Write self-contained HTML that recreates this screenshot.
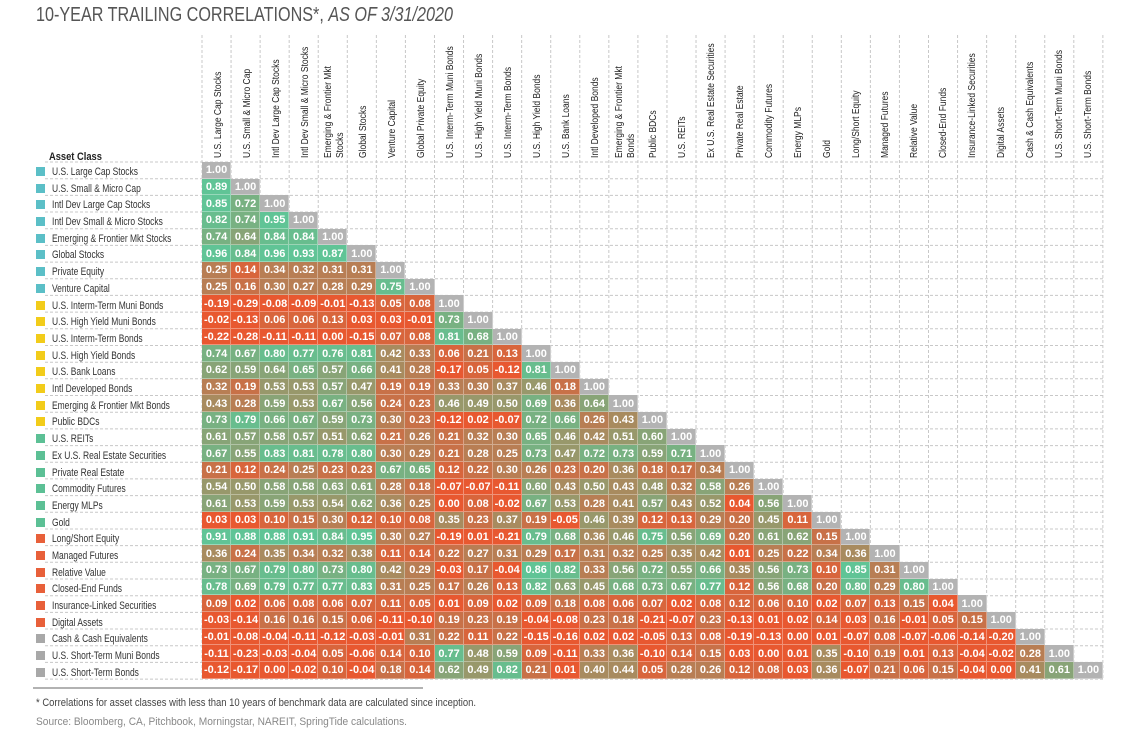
<!DOCTYPE html>
<html><head><meta charset="utf-8">
<style>
html,body{margin:0;padding:0;background:#fff;}
body{width:1139px;height:731px;position:relative;overflow:hidden;font-family:"Liberation Sans",Arial,sans-serif;}
svg{position:absolute;left:0;top:0;}
table{position:absolute;left:202px;top:162px;width:901px;table-layout:fixed;border-collapse:collapse;border-spacing:0;}
td{padding:0;height:16.68px;line-height:16px;text-align:center;color:#fff;font-weight:bold;font-size:11px;box-shadow:inset -1px -1px 0 rgba(255,255,255,.35);white-space:nowrap;overflow:hidden;}
tr{height:16.68px;}
.d{background:#b3b3b3}
.n{background:#e85830}
.a1{background:#d8653c}
.a2{background:#c87148}
.a3{background:#b87e54}
.a4{background:#a88b5f}
.a5{background:#98986b}
.a6{background:#88a477}
.a7{background:#78b182}
.a8{background:#68bd8e}
.a9{background:#60c496}
</style></head><body>
<svg width="1139" height="731" viewBox="0 0 1139 731">
<text x="36" y="21" font-size="20" fill="#555" textLength="417" lengthAdjust="spacingAndGlyphs">10-YEAR TRAILING CORRELATIONS*, <tspan font-style="italic">AS OF 3/31/2020</tspan></text>
<g stroke="#c8c8c8" stroke-width="1" stroke-dasharray="3,2">
<line x1="202" y1="35" x2="202" y2="680"/><line x1="231.06" y1="35" x2="231.06" y2="680"/><line x1="260.12" y1="35" x2="260.12" y2="680"/><line x1="289.18" y1="35" x2="289.18" y2="680"/><line x1="318.24" y1="35" x2="318.24" y2="680"/><line x1="347.3" y1="35" x2="347.3" y2="680"/><line x1="376.36" y1="35" x2="376.36" y2="680"/><line x1="405.42" y1="35" x2="405.42" y2="680"/><line x1="434.48" y1="35" x2="434.48" y2="680"/><line x1="463.54" y1="35" x2="463.54" y2="680"/><line x1="492.6" y1="35" x2="492.6" y2="680"/><line x1="521.66" y1="35" x2="521.66" y2="680"/><line x1="550.72" y1="35" x2="550.72" y2="680"/><line x1="579.78" y1="35" x2="579.78" y2="680"/><line x1="608.84" y1="35" x2="608.84" y2="680"/><line x1="637.9" y1="35" x2="637.9" y2="680"/><line x1="666.96" y1="35" x2="666.96" y2="680"/><line x1="696.02" y1="35" x2="696.02" y2="680"/><line x1="725.08" y1="35" x2="725.08" y2="680"/><line x1="754.14" y1="35" x2="754.14" y2="680"/><line x1="783.2" y1="35" x2="783.2" y2="680"/><line x1="812.26" y1="35" x2="812.26" y2="680"/><line x1="841.32" y1="35" x2="841.32" y2="680"/><line x1="870.38" y1="35" x2="870.38" y2="680"/><line x1="899.44" y1="35" x2="899.44" y2="680"/><line x1="928.5" y1="35" x2="928.5" y2="680"/><line x1="957.56" y1="35" x2="957.56" y2="680"/><line x1="986.62" y1="35" x2="986.62" y2="680"/><line x1="1015.68" y1="35" x2="1015.68" y2="680"/><line x1="1044.74" y1="35" x2="1044.74" y2="680"/><line x1="1073.8" y1="35" x2="1073.8" y2="680"/><line x1="1102.86" y1="35" x2="1102.86" y2="680"/>
<line x1="45" y1="162" x2="1103" y2="162"/><line x1="45" y1="178.7" x2="1103" y2="178.7"/><line x1="45" y1="195.4" x2="1103" y2="195.4"/><line x1="45" y1="212" x2="1103" y2="212"/><line x1="45" y1="228.7" x2="1103" y2="228.7"/><line x1="45" y1="245.4" x2="1103" y2="245.4"/><line x1="45" y1="262.1" x2="1103" y2="262.1"/><line x1="45" y1="278.8" x2="1103" y2="278.8"/><line x1="45" y1="295.4" x2="1103" y2="295.4"/><line x1="45" y1="312.1" x2="1103" y2="312.1"/><line x1="45" y1="328.8" x2="1103" y2="328.8"/><line x1="45" y1="345.5" x2="1103" y2="345.5"/><line x1="45" y1="362.2" x2="1103" y2="362.2"/><line x1="45" y1="378.8" x2="1103" y2="378.8"/><line x1="45" y1="395.5" x2="1103" y2="395.5"/><line x1="45" y1="412.2" x2="1103" y2="412.2"/><line x1="45" y1="428.9" x2="1103" y2="428.9"/><line x1="45" y1="445.6" x2="1103" y2="445.6"/><line x1="45" y1="462.2" x2="1103" y2="462.2"/><line x1="45" y1="478.9" x2="1103" y2="478.9"/><line x1="45" y1="495.6" x2="1103" y2="495.6"/><line x1="45" y1="512.3" x2="1103" y2="512.3"/><line x1="45" y1="529" x2="1103" y2="529"/><line x1="45" y1="545.6" x2="1103" y2="545.6"/><line x1="45" y1="562.3" x2="1103" y2="562.3"/><line x1="45" y1="579" x2="1103" y2="579"/><line x1="45" y1="595.7" x2="1103" y2="595.7"/><line x1="45" y1="612.4" x2="1103" y2="612.4"/><line x1="45" y1="629" x2="1103" y2="629"/><line x1="45" y1="645.7" x2="1103" y2="645.7"/><line x1="45" y1="662.4" x2="1103" y2="662.4"/><line x1="45" y1="679.1" x2="1103" y2="679.1"/>
</g>
<g font-size="10" fill="#222">
<text transform="translate(221,158) rotate(-90) scale(0.85,1)">U.S. Large Cap Stocks</text>
<text transform="translate(250,158) rotate(-90) scale(0.85,1)">U.S. Small &amp; Micro Cap</text>
<text transform="translate(279,158) rotate(-90) scale(0.85,1)">Intl Dev Large Cap Stocks</text>
<text transform="translate(308,158) rotate(-90) scale(0.85,1)">Intl Dev Small &amp; Micro Stocks</text>
<text transform="translate(331,158) rotate(-90) scale(0.85,1)">Emerging &amp; Frontier Mkt</text>
<text transform="translate(343,158) rotate(-90) scale(0.85,1)">Stocks</text>
<text transform="translate(366,158) rotate(-90) scale(0.85,1)">Global Stocks</text>
<text transform="translate(395,158) rotate(-90) scale(0.85,1)">Venture Capital</text>
<text transform="translate(424,158) rotate(-90) scale(0.85,1)">Global Private Equity</text>
<text transform="translate(453,158) rotate(-90) scale(0.85,1)">U.S. Interm-Term Muni Bonds</text>
<text transform="translate(482,158) rotate(-90) scale(0.85,1)">U.S. High Yield Muni Bonds</text>
<text transform="translate(511,158) rotate(-90) scale(0.85,1)">U.S. Interm-Term Bonds</text>
<text transform="translate(540,158) rotate(-90) scale(0.85,1)">U.S. High Yield Bonds</text>
<text transform="translate(569,158) rotate(-90) scale(0.85,1)">U.S. Bank Loans</text>
<text transform="translate(598,158) rotate(-90) scale(0.85,1)">Intl Developed Bonds</text>
<text transform="translate(622,158) rotate(-90) scale(0.85,1)">Emerging &amp; Frontier Mkt</text>
<text transform="translate(634,158) rotate(-90) scale(0.85,1)">Bonds</text>
<text transform="translate(656,158) rotate(-90) scale(0.85,1)">Public BDCs</text>
<text transform="translate(685,158) rotate(-90) scale(0.85,1)">U.S. REITs</text>
<text transform="translate(714,158) rotate(-90) scale(0.85,1)">Ex U.S. Real Estate Securities</text>
<text transform="translate(743,158) rotate(-90) scale(0.85,1)">Private Real Estate</text>
<text transform="translate(772,158) rotate(-90) scale(0.85,1)">Commodity Futures</text>
<text transform="translate(801,158) rotate(-90) scale(0.85,1)">Energy MLPs</text>
<text transform="translate(830,158) rotate(-90) scale(0.85,1)">Gold</text>
<text transform="translate(859,158) rotate(-90) scale(0.85,1)">Long/Short Equity</text>
<text transform="translate(888,158) rotate(-90) scale(0.85,1)">Managed Futures</text>
<text transform="translate(917,158) rotate(-90) scale(0.85,1)">Relative Value</text>
<text transform="translate(946,158) rotate(-90) scale(0.85,1)">Closed-End Funds</text>
<text transform="translate(975,158) rotate(-90) scale(0.85,1)">Insurance-Linked Securities</text>
<text transform="translate(1004,158) rotate(-90) scale(0.85,1)">Digital Assets</text>
<text transform="translate(1033,158) rotate(-90) scale(0.85,1)">Cash &amp; Cash Equivalents</text>
<text transform="translate(1062,158) rotate(-90) scale(0.85,1)">U.S. Short-Term Muni Bonds</text>
<text transform="translate(1091,158) rotate(-90) scale(0.85,1)">U.S. Short-Term Bonds</text>
</g>
<text transform="translate(49,160) scale(0.85,1)" font-size="11" font-weight="bold" fill="#222">Asset Class</text>
<g>
<rect x="36" y="167" width="9" height="9" fill="#5bbfc7"/><rect x="36" y="184" width="9" height="9" fill="#5bbfc7"/><rect x="36" y="200" width="9" height="9" fill="#5bbfc7"/><rect x="36" y="217" width="9" height="9" fill="#5bbfc7"/><rect x="36" y="234" width="9" height="9" fill="#5bbfc7"/><rect x="36" y="250" width="9" height="9" fill="#5bbfc7"/><rect x="36" y="267" width="9" height="9" fill="#5bbfc7"/><rect x="36" y="284" width="9" height="9" fill="#5bbfc7"/>
<rect x="36" y="301" width="9" height="9" fill="#f2cc1a"/><rect x="36" y="317" width="9" height="9" fill="#f2cc1a"/><rect x="36" y="334" width="9" height="9" fill="#f2cc1a"/><rect x="36" y="351" width="9" height="9" fill="#f2cc1a"/><rect x="36" y="367" width="9" height="9" fill="#f2cc1a"/><rect x="36" y="384" width="9" height="9" fill="#f2cc1a"/><rect x="36" y="401" width="9" height="9" fill="#f2cc1a"/><rect x="36" y="417" width="9" height="9" fill="#f2cc1a"/>
<rect x="36" y="434" width="9" height="9" fill="#5cc095"/><rect x="36" y="451" width="9" height="9" fill="#5cc095"/><rect x="36" y="468" width="9" height="9" fill="#5cc095"/><rect x="36" y="484" width="9" height="9" fill="#5cc095"/><rect x="36" y="501" width="9" height="9" fill="#5cc095"/><rect x="36" y="518" width="9" height="9" fill="#5cc095"/>
<rect x="36" y="534" width="9" height="9" fill="#e8603a"/><rect x="36" y="551" width="9" height="9" fill="#e8603a"/><rect x="36" y="568" width="9" height="9" fill="#e8603a"/><rect x="36" y="584" width="9" height="9" fill="#e8603a"/><rect x="36" y="601" width="9" height="9" fill="#e8603a"/><rect x="36" y="618" width="9" height="9" fill="#e8603a"/>
<rect x="36" y="634" width="9" height="9" fill="#a8a8a8"/><rect x="36" y="651" width="9" height="9" fill="#a8a8a8"/><rect x="36" y="668" width="9" height="9" fill="#a8a8a8"/>
</g>
<g font-size="11" fill="#333">
<text transform="translate(52,175) scale(0.77,1)">U.S. Large Cap Stocks</text>
<text transform="translate(52,192) scale(0.77,1)">U.S. Small &amp; Micro Cap</text>
<text transform="translate(52,208) scale(0.77,1)">Intl Dev Large Cap Stocks</text>
<text transform="translate(52,225) scale(0.77,1)">Intl Dev Small &amp; Micro Stocks</text>
<text transform="translate(52,242) scale(0.77,1)">Emerging &amp; Frontier Mkt Stocks</text>
<text transform="translate(52,258) scale(0.77,1)">Global Stocks</text>
<text transform="translate(52,275) scale(0.77,1)">Private Equity</text>
<text transform="translate(52,292) scale(0.77,1)">Venture Capital</text>
<text transform="translate(52,309) scale(0.77,1)">U.S. Interm-Term Muni Bonds</text>
<text transform="translate(52,325) scale(0.77,1)">U.S. High Yield Muni Bonds</text>
<text transform="translate(52,342) scale(0.77,1)">U.S. Interm-Term Bonds</text>
<text transform="translate(52,359) scale(0.77,1)">U.S. High Yield Bonds</text>
<text transform="translate(52,375) scale(0.77,1)">U.S. Bank Loans</text>
<text transform="translate(52,392) scale(0.77,1)">Intl Developed Bonds</text>
<text transform="translate(52,409) scale(0.77,1)">Emerging &amp; Frontier Mkt Bonds</text>
<text transform="translate(52,425) scale(0.77,1)">Public BDCs</text>
<text transform="translate(52,442) scale(0.77,1)">U.S. REITs</text>
<text transform="translate(52,459) scale(0.77,1)">Ex U.S. Real Estate Securities</text>
<text transform="translate(52,476) scale(0.77,1)">Private Real Estate</text>
<text transform="translate(52,492) scale(0.77,1)">Commodity Futures</text>
<text transform="translate(52,509) scale(0.77,1)">Energy MLPs</text>
<text transform="translate(52,526) scale(0.77,1)">Gold</text>
<text transform="translate(52,542) scale(0.77,1)">Long/Short Equity</text>
<text transform="translate(52,559) scale(0.77,1)">Managed Futures</text>
<text transform="translate(52,576) scale(0.77,1)">Relative Value</text>
<text transform="translate(52,592) scale(0.77,1)">Closed-End Funds</text>
<text transform="translate(52,609) scale(0.77,1)">Insurance-Linked Securities</text>
<text transform="translate(52,626) scale(0.77,1)">Digital Assets</text>
<text transform="translate(52,642) scale(0.77,1)">Cash &amp; Cash Equivalents</text>
<text transform="translate(52,659) scale(0.77,1)">U.S. Short-Term Muni Bonds</text>
<text transform="translate(52,676) scale(0.77,1)">U.S. Short-Term Bonds</text>
</g>
<line x1="33" y1="688" x2="423" y2="688" stroke="#999" stroke-width="1.5"/>
<text x="36" y="706" font-size="11" fill="#444" textLength="440" lengthAdjust="spacingAndGlyphs">* Correlations for asset classes with less than 10 years of benchmark data are calculated since inception.</text>
<text x="36" y="725" font-size="11" fill="#888" textLength="371" lengthAdjust="spacingAndGlyphs">Source: Bloomberg, CA, Pitchbook, Morningstar, NAREIT, SpringTide calculations.</text>
</svg>
<table>
<colgroup><col span="31" style="width:29.06px"></colgroup>
<tr><td class="d">1.00</td></tr>
<tr><td class="a9">0.89</td><td class="d">1.00</td></tr>
<tr><td class="a9">0.85</td><td class="a7">0.72</td><td class="d">1.00</td></tr>
<tr><td class="a8">0.82</td><td class="a7">0.74</td><td class="a9">0.95</td><td class="d">1.00</td></tr>
<tr><td class="a7">0.74</td><td class="a6">0.64</td><td class="a8">0.84</td><td class="a8">0.84</td><td class="d">1.00</td></tr>
<tr><td class="a9">0.96</td><td class="a8">0.84</td><td class="a9">0.96</td><td class="a9">0.93</td><td class="a9">0.87</td><td class="d">1.00</td></tr>
<tr><td class="a3">0.25</td><td class="a1">0.14</td><td class="a3">0.34</td><td class="a3">0.32</td><td class="a3">0.31</td><td class="a3">0.31</td><td class="d">1.00</td></tr>
<tr><td class="a3">0.25</td><td class="a2">0.16</td><td class="a3">0.30</td><td class="a3">0.27</td><td class="a3">0.28</td><td class="a3">0.29</td><td class="a8">0.75</td><td class="d">1.00</td></tr>
<tr><td class="n">-0.19</td><td class="n">-0.29</td><td class="n">-0.08</td><td class="n">-0.09</td><td class="n">-0.01</td><td class="n">-0.13</td><td class="a1">0.05</td><td class="a1">0.08</td><td class="d">1.00</td></tr>
<tr><td class="n">-0.02</td><td class="n">-0.13</td><td class="a1">0.06</td><td class="a1">0.06</td><td class="a1">0.13</td><td class="n">0.03</td><td class="n">0.03</td><td class="n">-0.01</td><td class="a7">0.73</td><td class="d">1.00</td></tr>
<tr><td class="n">-0.22</td><td class="n">-0.28</td><td class="n">-0.11</td><td class="n">-0.11</td><td class="n">0.00</td><td class="n">-0.15</td><td class="a1">0.07</td><td class="a1">0.08</td><td class="a8">0.81</td><td class="a7">0.68</td><td class="d">1.00</td></tr>
<tr><td class="a7">0.74</td><td class="a7">0.67</td><td class="a8">0.80</td><td class="a8">0.77</td><td class="a8">0.76</td><td class="a8">0.81</td><td class="a4">0.42</td><td class="a3">0.33</td><td class="a1">0.06</td><td class="a2">0.21</td><td class="a1">0.13</td><td class="d">1.00</td></tr>
<tr><td class="a6">0.62</td><td class="a6">0.59</td><td class="a6">0.64</td><td class="a7">0.65</td><td class="a6">0.57</td><td class="a7">0.66</td><td class="a4">0.41</td><td class="a3">0.28</td><td class="n">-0.17</td><td class="a1">0.05</td><td class="n">-0.12</td><td class="a8">0.81</td><td class="d">1.00</td></tr>
<tr><td class="a3">0.32</td><td class="a2">0.19</td><td class="a5">0.53</td><td class="a5">0.53</td><td class="a6">0.57</td><td class="a5">0.47</td><td class="a2">0.19</td><td class="a2">0.19</td><td class="a3">0.33</td><td class="a3">0.30</td><td class="a4">0.37</td><td class="a5">0.46</td><td class="a2">0.18</td><td class="d">1.00</td></tr>
<tr><td class="a4">0.43</td><td class="a3">0.28</td><td class="a6">0.59</td><td class="a5">0.53</td><td class="a7">0.67</td><td class="a6">0.56</td><td class="a2">0.24</td><td class="a2">0.23</td><td class="a5">0.46</td><td class="a5">0.49</td><td class="a5">0.50</td><td class="a7">0.69</td><td class="a4">0.36</td><td class="a6">0.64</td><td class="d">1.00</td></tr>
<tr><td class="a7">0.73</td><td class="a8">0.79</td><td class="a7">0.66</td><td class="a7">0.67</td><td class="a6">0.59</td><td class="a7">0.73</td><td class="a3">0.30</td><td class="a2">0.23</td><td class="n">-0.12</td><td class="n">0.02</td><td class="n">-0.07</td><td class="a7">0.72</td><td class="a7">0.66</td><td class="a3">0.26</td><td class="a4">0.43</td><td class="d">1.00</td></tr>
<tr><td class="a6">0.61</td><td class="a6">0.57</td><td class="a6">0.58</td><td class="a6">0.57</td><td class="a5">0.51</td><td class="a6">0.62</td><td class="a2">0.21</td><td class="a3">0.26</td><td class="a2">0.21</td><td class="a3">0.32</td><td class="a3">0.30</td><td class="a7">0.65</td><td class="a5">0.46</td><td class="a4">0.42</td><td class="a5">0.51</td><td class="a6">0.60</td><td class="d">1.00</td></tr>
<tr><td class="a7">0.67</td><td class="a6">0.55</td><td class="a8">0.83</td><td class="a8">0.81</td><td class="a8">0.78</td><td class="a8">0.80</td><td class="a3">0.30</td><td class="a3">0.29</td><td class="a2">0.21</td><td class="a3">0.28</td><td class="a3">0.25</td><td class="a7">0.73</td><td class="a5">0.47</td><td class="a7">0.72</td><td class="a7">0.73</td><td class="a6">0.59</td><td class="a7">0.71</td><td class="d">1.00</td></tr>
<tr><td class="a2">0.21</td><td class="a1">0.12</td><td class="a2">0.24</td><td class="a3">0.25</td><td class="a2">0.23</td><td class="a2">0.23</td><td class="a7">0.67</td><td class="a7">0.65</td><td class="a1">0.12</td><td class="a2">0.22</td><td class="a3">0.30</td><td class="a3">0.26</td><td class="a2">0.23</td><td class="a2">0.20</td><td class="a4">0.36</td><td class="a2">0.18</td><td class="a2">0.17</td><td class="a3">0.34</td><td class="d">1.00</td></tr>
<tr><td class="a5">0.54</td><td class="a5">0.50</td><td class="a6">0.58</td><td class="a6">0.58</td><td class="a6">0.63</td><td class="a6">0.61</td><td class="a3">0.28</td><td class="a2">0.18</td><td class="n">-0.07</td><td class="n">-0.07</td><td class="n">-0.11</td><td class="a6">0.60</td><td class="a4">0.43</td><td class="a5">0.50</td><td class="a4">0.43</td><td class="a5">0.48</td><td class="a3">0.32</td><td class="a6">0.58</td><td class="a3">0.26</td><td class="d">1.00</td></tr>
<tr><td class="a6">0.61</td><td class="a5">0.53</td><td class="a6">0.59</td><td class="a5">0.53</td><td class="a5">0.54</td><td class="a6">0.62</td><td class="a4">0.36</td><td class="a3">0.25</td><td class="n">0.00</td><td class="a1">0.08</td><td class="n">-0.02</td><td class="a7">0.67</td><td class="a5">0.53</td><td class="a3">0.28</td><td class="a4">0.41</td><td class="a6">0.57</td><td class="a4">0.43</td><td class="a5">0.52</td><td class="n">0.04</td><td class="a6">0.56</td><td class="d">1.00</td></tr>
<tr><td class="n">0.03</td><td class="n">0.03</td><td class="a1">0.10</td><td class="a2">0.15</td><td class="a3">0.30</td><td class="a1">0.12</td><td class="a1">0.10</td><td class="a1">0.08</td><td class="a4">0.35</td><td class="a2">0.23</td><td class="a4">0.37</td><td class="a2">0.19</td><td class="n">-0.05</td><td class="a5">0.46</td><td class="a4">0.39</td><td class="a1">0.12</td><td class="a1">0.13</td><td class="a3">0.29</td><td class="a2">0.20</td><td class="a5">0.45</td><td class="a1">0.11</td><td class="d">1.00</td></tr>
<tr><td class="a9">0.91</td><td class="a9">0.88</td><td class="a9">0.88</td><td class="a9">0.91</td><td class="a8">0.84</td><td class="a9">0.95</td><td class="a3">0.30</td><td class="a3">0.27</td><td class="n">-0.19</td><td class="n">0.01</td><td class="n">-0.21</td><td class="a8">0.79</td><td class="a7">0.68</td><td class="a4">0.36</td><td class="a5">0.46</td><td class="a8">0.75</td><td class="a6">0.56</td><td class="a7">0.69</td><td class="a2">0.20</td><td class="a6">0.61</td><td class="a6">0.62</td><td class="a2">0.15</td><td class="d">1.00</td></tr>
<tr><td class="a4">0.36</td><td class="a2">0.24</td><td class="a4">0.35</td><td class="a3">0.34</td><td class="a3">0.32</td><td class="a4">0.38</td><td class="a1">0.11</td><td class="a1">0.14</td><td class="a2">0.22</td><td class="a3">0.27</td><td class="a3">0.31</td><td class="a3">0.29</td><td class="a2">0.17</td><td class="a3">0.31</td><td class="a3">0.32</td><td class="a3">0.25</td><td class="a4">0.35</td><td class="a4">0.42</td><td class="n">0.01</td><td class="a3">0.25</td><td class="a2">0.22</td><td class="a3">0.34</td><td class="a4">0.36</td><td class="d">1.00</td></tr>
<tr><td class="a7">0.73</td><td class="a7">0.67</td><td class="a8">0.79</td><td class="a8">0.80</td><td class="a7">0.73</td><td class="a8">0.80</td><td class="a4">0.42</td><td class="a3">0.29</td><td class="n">-0.03</td><td class="a2">0.17</td><td class="n">-0.04</td><td class="a9">0.86</td><td class="a8">0.82</td><td class="a3">0.33</td><td class="a6">0.56</td><td class="a7">0.72</td><td class="a6">0.55</td><td class="a7">0.66</td><td class="a4">0.35</td><td class="a6">0.56</td><td class="a7">0.73</td><td class="a1">0.10</td><td class="a9">0.85</td><td class="a3">0.31</td><td class="d">1.00</td></tr>
<tr><td class="a8">0.78</td><td class="a7">0.69</td><td class="a8">0.79</td><td class="a8">0.77</td><td class="a8">0.77</td><td class="a8">0.83</td><td class="a3">0.31</td><td class="a3">0.25</td><td class="a2">0.17</td><td class="a3">0.26</td><td class="a1">0.13</td><td class="a8">0.82</td><td class="a6">0.63</td><td class="a5">0.45</td><td class="a7">0.68</td><td class="a7">0.73</td><td class="a7">0.67</td><td class="a8">0.77</td><td class="a1">0.12</td><td class="a6">0.56</td><td class="a7">0.68</td><td class="a2">0.20</td><td class="a8">0.80</td><td class="a3">0.29</td><td class="a8">0.80</td><td class="d">1.00</td></tr>
<tr><td class="a1">0.09</td><td class="n">0.02</td><td class="a1">0.06</td><td class="a1">0.08</td><td class="a1">0.06</td><td class="a1">0.07</td><td class="a1">0.11</td><td class="a1">0.05</td><td class="n">0.01</td><td class="a1">0.09</td><td class="n">0.02</td><td class="a1">0.09</td><td class="a2">0.18</td><td class="a1">0.08</td><td class="a1">0.06</td><td class="a1">0.07</td><td class="n">0.02</td><td class="a1">0.08</td><td class="a1">0.12</td><td class="a1">0.06</td><td class="a1">0.10</td><td class="n">0.02</td><td class="a1">0.07</td><td class="a1">0.13</td><td class="a2">0.15</td><td class="n">0.04</td><td class="d">1.00</td></tr>
<tr><td class="n">-0.03</td><td class="n">-0.14</td><td class="a2">0.16</td><td class="a2">0.16</td><td class="a2">0.15</td><td class="a1">0.06</td><td class="n">-0.11</td><td class="n">-0.10</td><td class="a2">0.19</td><td class="a2">0.23</td><td class="a2">0.19</td><td class="n">-0.04</td><td class="n">-0.08</td><td class="a2">0.23</td><td class="a2">0.18</td><td class="n">-0.21</td><td class="n">-0.07</td><td class="a2">0.23</td><td class="n">-0.13</td><td class="n">0.01</td><td class="n">0.02</td><td class="a1">0.14</td><td class="n">0.03</td><td class="a2">0.16</td><td class="n">-0.01</td><td class="a1">0.05</td><td class="a2">0.15</td><td class="d">1.00</td></tr>
<tr><td class="n">-0.01</td><td class="n">-0.08</td><td class="n">-0.04</td><td class="n">-0.11</td><td class="n">-0.12</td><td class="n">-0.03</td><td class="n">-0.01</td><td class="a3">0.31</td><td class="a2">0.22</td><td class="a1">0.11</td><td class="a2">0.22</td><td class="n">-0.15</td><td class="n">-0.16</td><td class="n">0.02</td><td class="n">0.02</td><td class="n">-0.05</td><td class="a1">0.13</td><td class="a1">0.08</td><td class="n">-0.19</td><td class="n">-0.13</td><td class="n">0.00</td><td class="n">0.01</td><td class="n">-0.07</td><td class="a1">0.08</td><td class="n">-0.07</td><td class="n">-0.06</td><td class="n">-0.14</td><td class="n">-0.20</td><td class="d">1.00</td></tr>
<tr><td class="n">-0.11</td><td class="n">-0.23</td><td class="n">-0.03</td><td class="n">-0.04</td><td class="a1">0.05</td><td class="n">-0.06</td><td class="a1">0.14</td><td class="a1">0.10</td><td class="a8">0.77</td><td class="a5">0.48</td><td class="a6">0.59</td><td class="a1">0.09</td><td class="n">-0.11</td><td class="a3">0.33</td><td class="a4">0.36</td><td class="n">-0.10</td><td class="a1">0.14</td><td class="a2">0.15</td><td class="n">0.03</td><td class="n">0.00</td><td class="n">0.01</td><td class="a4">0.35</td><td class="n">-0.10</td><td class="a2">0.19</td><td class="n">0.01</td><td class="a1">0.13</td><td class="n">-0.04</td><td class="n">-0.02</td><td class="a3">0.28</td><td class="d">1.00</td></tr>
<tr><td class="n">-0.12</td><td class="n">-0.17</td><td class="n">0.00</td><td class="n">-0.02</td><td class="a1">0.10</td><td class="n">-0.04</td><td class="a2">0.18</td><td class="a1">0.14</td><td class="a6">0.62</td><td class="a5">0.49</td><td class="a8">0.82</td><td class="a2">0.21</td><td class="n">0.01</td><td class="a4">0.40</td><td class="a4">0.44</td><td class="a1">0.05</td><td class="a3">0.28</td><td class="a3">0.26</td><td class="a1">0.12</td><td class="a1">0.08</td><td class="n">0.03</td><td class="a4">0.36</td><td class="n">-0.07</td><td class="a2">0.21</td><td class="a1">0.06</td><td class="a2">0.15</td><td class="n">-0.04</td><td class="n">0.00</td><td class="a4">0.41</td><td class="a6">0.61</td><td class="d">1.00</td></tr>
</table>
</body></html>
